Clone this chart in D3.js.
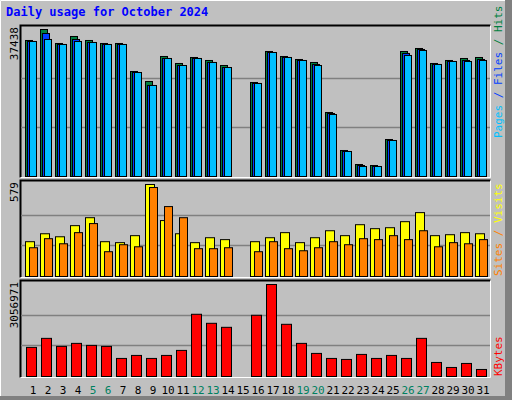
<!DOCTYPE html>
<html><head><meta charset="utf-8">
<script src="https://cdn.jsdelivr.net/npm/d3@7"></script>
<style>body{margin:0;background:#fff}</style>
</head><body><div id="chart-area"></div>
<script>
// Data
var days = d3.range(1, 32);
var weekends = [5, 6, 12, 13, 19, 20, 26, 27];
var hits = [34640, 37438, 33875, 35658, 34640, 33875, 33875, 26743, 24196, 30564, 28781, 30309, 29545, 28272, 0,
    23942, 31838, 30564, 29800, 29036, 16301, 6622, 3056, 2802, 9424, 31838, 32602, 28781, 29545, 30055, 30309];
var files = [34385, 36420, 33620, 34894, 34130, 33620, 33620, 26490, 23180, 30055, 28270, 30055, 29040, 27760, 0,
    23690, 31580, 30310, 29545, 28530, 16045, 6370, 2800, 2550, 9170, 31330, 32350, 28530, 29290, 29545, 29800];
var pages = [34385, 34894, 33620, 34385, 34130, 33620, 33620, 26490, 23180, 30055, 28270, 30055, 29040, 27760, 0,
    23690, 31580, 30310, 29545, 28270, 15790, 6370, 2550, 2550, 9170, 30820, 32090, 28530, 29290, 29290, 29545];
var sites = [219, 269, 250, 320, 370, 219, 213, 257, 579, 352, 269, 213, 244, 232, 0,
    219, 244, 276, 213, 244, 288, 257, 326, 301, 307, 345, 402, 257, 263, 276, 269];
var visits = [181, 238, 206, 276, 333, 156, 200, 187, 560, 440, 370, 175, 175, 181, 0,
    156, 219, 175, 162, 181, 219, 200, 238, 232, 257, 232, 288, 187, 213, 206, 232];
var kbytes = [967092, 1267224, 1000440, 1100484, 1033788, 1000440, 600264, 700308, 600264, 700308, 867048,
    2067576, 1767444, 1634052, 0, 2034228, 3056971, 1734096, 1100484, 767004, 600264, 566916, 733656,
    600264, 700308, 600264, 1267224, 466872, 300132, 433524, 233436];

var W = 512, H = 400;
var svg = d3.select("#chart-area").append("svg").attr("width", W).attr("height", H)
    .style("font-family", "DejaVu Sans Mono, monospace");

// outer frame
svg.append("rect").attr("width", W).attr("height", H).attr("fill", "#c0c0c0");
svg.append("path").attr("d", "M0.5,399.5V0.5H511.5").attr("fill", "none").attr("stroke", "#fff");
svg.append("rect").attr("x", 505).attr("y", 0).attr("width", 7).attr("height", H).attr("fill", "#808080");
svg.append("rect").attr("x", 0).attr("y", 396).attr("width", W).attr("height", 4).attr("fill", "#808080");

svg.append("text").attr("x", 6).attr("y", 16).attr("fill", "#0000ff")
    .style("font-weight", "bold").style("font-size", "12px").text("Daily usage for October 2024");

var x = d3.scaleLinear().domain([1, 32]).range([25, 490]);

var panels = [
    {top: 25, bottom: 177, plotTop: 29, max: 37438, label: "37438",
        series: [{data: hits, color: "#008040", off: 0, w: 7}, {data: files, color: "#0040ff", off: 2, w: 7}, {data: pages, color: "#00c0ff", off: 4, w: 7}],
        legend: [["Pages", "#00c0ff"], [" / ", "#0040ff"], ["Files", "#0040ff"], [" / ", "#008040"], ["Hits", "#008040"]], legY: 138},
    {top: 180, bottom: 277, plotTop: 184, max: 579, label: "579",
        series: [{data: sites, color: "#ffff00", off: 0, w: 9}, {data: visits, color: "#ff8000", off: 4, w: 8}],
        legend: [["Sites", "#ff8000"], [" / ", "#ff8000"], ["Visits", "#ffff00"]], legY: 276},
    {top: 280, bottom: 377, plotTop: 284, max: 3056971, label: "3056971",
        series: [{data: kbytes, color: "#ff0000", off: 1, w: 10}],
        legend: [["KBytes", "#ff0000"]], legY: 376}
];

panels.forEach(function(p) {
    svg.append("rect").attr("x", 20.5).attr("y", p.top + 0.5).attr("width", 470).attr("height", p.bottom - p.top)
        .attr("fill", "#c0c0c0").attr("stroke", "none");
    svg.append("path").attr("d", "M20.5," + (p.bottom + 0.5) + "V" + (p.top + 0.5) + "H490.5")
        .attr("fill", "none").attr("stroke", "#000").attr("stroke-width", 2);
    svg.append("path").attr("d", "M20.5," + (p.bottom + 0.5) + "H490.5V" + (p.top + 0.5))
        .attr("fill", "none").attr("stroke", "#fff");

    var y = d3.scaleLinear().domain([0, p.max]).range([p.bottom - 1, p.plotTop]);
    var gh = (p.bottom - 1 - p.plotTop);
    [1 / 3, 2 / 3].forEach(function(f) {
        var gy = Math.round(p.bottom - 1 - gh * f * 1.0) + 0.5;
        svg.append("line").attr("x1", 21).attr("x2", 490).attr("y1", gy).attr("y2", gy)
            .attr("stroke", "#808080").attr("stroke-width", 1.5);
    });

    p.series.forEach(function(s) {
        svg.append("g").selectAll("rect").data(s.data).enter().append("rect")
            .attr("x", function(d, i) { return x(days[i]) + s.off + 0.5; })
            .attr("y", function(d) { return y(d) + 0.5; })
            .attr("width", s.w)
            .attr("height", function(d) { return y(0) - y(d); })
            .attr("fill", s.color).attr("stroke", "#000").attr("stroke-width", 1);
    });

    svg.append("text").attr("transform", "translate(18," + (p.top + 2) + ") rotate(-90)")
        .attr("text-anchor", "end").attr("fill", "#000").style("font-size", "11px").text(p.label);

    var t = svg.append("text").attr("transform", "translate(502," + p.legY + ") rotate(-90)")
        .style("font-size", "11px");
    p.legend.forEach(function(l) { t.append("tspan").attr("fill", l[1]).text(l[0]); });
});

svg.append("g").selectAll("text").data(days).enter().append("text")
    .attr("x", function(d) { return x(d) + 8; })
    .attr("y", 394)
    .attr("text-anchor", "middle")
    .style("font-size", "11px")
    .attr("fill", function(d) { return weekends.indexOf(d) >= 0 ? "#008060" : "#000"; })
    .text(function(d) { return d; });
</script>
</body></html>
